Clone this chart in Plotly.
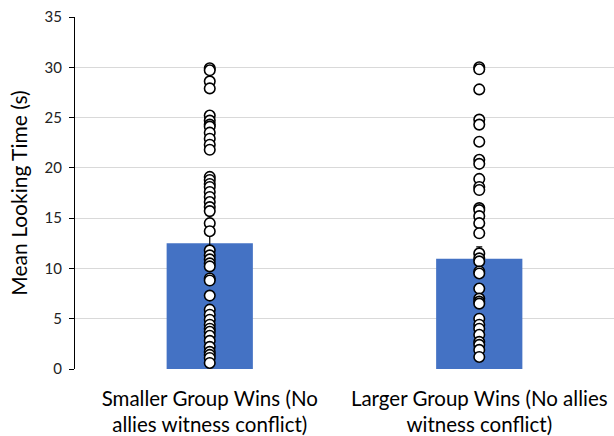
import plotly.graph_objects as go

categories = ["Smaller Group Wins (No<br>allies witness conflict)",
              "Larger Group Wins (No allies<br>witness conflict)"]
means = [12.5, 10.95]
errors = [0.85, 1.2]

smaller_pts = [29.9, 29.7, 28.6, 27.9, 25.2, 24.7, 24.3, 24.1, 23.5, 22.9, 22.3, 21.8,
               19.1, 18.8, 18.4, 18.1, 17.6, 17.1, 16.6, 16.1, 15.7, 14.5, 13.7,
               11.8, 11.3, 10.9, 10.5, 10.2, 9.0, 8.8, 7.3, 5.9, 5.4, 4.9, 4.4, 4.0,
               3.7, 3.3, 2.8, 2.2, 1.7, 1.4, 1.1, 0.6]
larger_pts = [30.0, 29.8, 27.8, 24.8, 24.3, 22.6, 20.8, 20.4, 18.9, 18.1, 17.8, 16.0,
              15.8, 15.2, 14.5, 13.5, 11.5, 11.0, 10.7, 9.7, 9.5, 8.0, 7.0, 6.7, 6.5,
              5.0, 4.4, 4.0, 3.4, 2.7, 2.4, 1.9, 1.2]

FONT = "Lato, Open Sans, sans-serif"

fig = go.Figure()
fig.add_trace(go.Bar(
    x=categories, y=means, width=0.32,
    marker=dict(color="#4472C4", line=dict(width=0)),
    error_y=dict(type="data", array=errors, color="black", thickness=1.2, width=3),
    showlegend=False,
))
fig.add_trace(go.Scatter(
    x=[categories[0]] * len(smaller_pts) + [categories[1]] * len(larger_pts),
    y=smaller_pts + larger_pts,
    mode="markers",
    marker=dict(size=10.5, color="white", line=dict(color="black", width=1.6)),
    showlegend=False,
))

fig.update_layout(
    width=614, height=436,
    margin=dict(l=75, r=0, t=17, b=67),
    paper_bgcolor="white", plot_bgcolor="white",
    font=dict(family=FONT, color="black"),
)
fig.update_yaxes(
    range=[0, 35], dtick=5, automargin=False,
    showgrid=True, gridcolor="#D9D9D9", gridwidth=1,
    showline=True, linecolor="black", linewidth=1.2,
    ticks="outside", ticklen=5, tickcolor="black",
    tickfont=dict(size=15, family=FONT, color="#222"),
    ticklabeloverflow="allow",
    ticklabelstandoff=4,
    title=dict(text="Mean Looking Time (s)", font=dict(size=21, family=FONT), standoff=11),
    zeroline=False,
)
fig.update_xaxes(
    showline=False, ticks="", automargin=False,
    tickfont=dict(size=20.5, family=FONT),
    ticklabelstandoff=15,
)

fig.write_html(
    "out.html",
    config={"displayModeBar": False},
    post_script="document.body.style.margin='0';document.body.style.overflow='hidden';",
)
